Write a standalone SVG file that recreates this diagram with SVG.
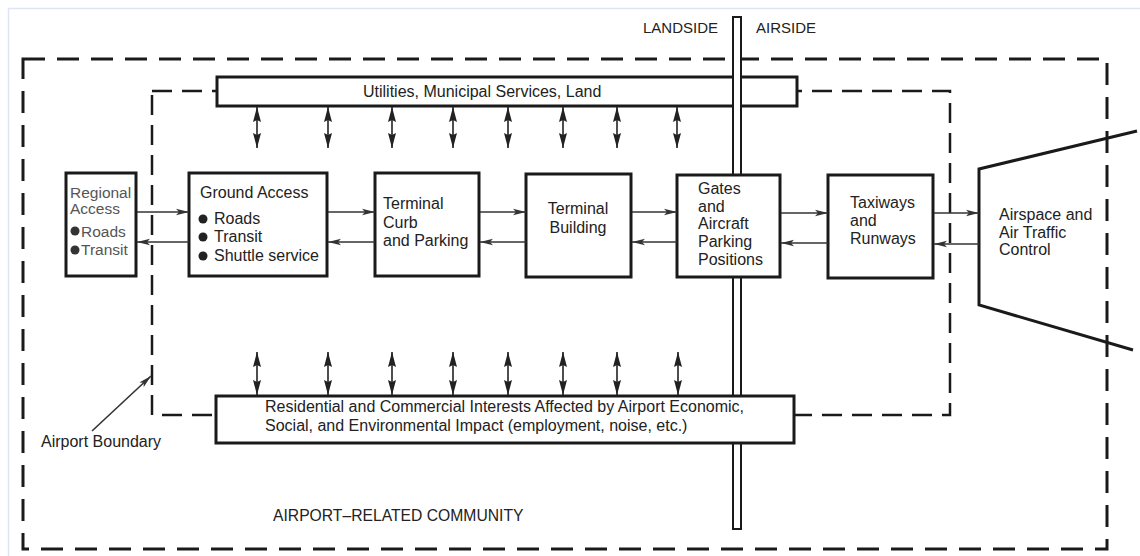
<svg xmlns="http://www.w3.org/2000/svg" width="1140" height="556" viewBox="0 0 1140 556">
<style>
text{font-family:"Liberation Sans",Arial,sans-serif;font-size:16px;fill:#222}
.gray{fill:#555;font-size:15.5px}
.side{font-size:15px}
.box{fill:#fff;stroke:#1a1a1a;stroke-width:3}
.dash{fill:none;stroke:#1a1a1a;stroke-width:3;stroke-dasharray:22 12}
.dash2{fill:none;stroke:#1a1a1a;stroke-width:2.5;stroke-dasharray:20 10}
.flow{stroke:#333;stroke-width:1.6;fill:none;marker-end:url(#ah)}
.dbl{stroke:#222;stroke-width:1.6;fill:none;marker-start:url(#vh);marker-end:url(#vh)}
</style>
<defs>
<marker id="ah" markerUnits="userSpaceOnUse" markerWidth="14" markerHeight="8" refX="13" refY="4" orient="auto">
<path d="M0,0.8 L13,4 L0,7.2 L3,4 Z" fill="#333"/>
</marker>
<marker id="vh" markerUnits="userSpaceOnUse" markerWidth="16" markerHeight="9" refX="15" refY="4.5" orient="auto-start-reverse">
<path d="M0,0.5 L15,4.5 L0,8.5 L2,4.5 Z" fill="#222"/>
</marker>
</defs>
<rect x="8.5" y="8.5" width="1150" height="570" fill="none" stroke="#dde5f5" stroke-width="1.5"/>
<g id="community-boundary">
<rect class="dash" x="23" y="59" width="1084" height="490"/>
<rect class="dash2" x="152" y="91" width="798" height="324"/>
</g>
<g id="utilities">
<rect class="box" x="217" y="77" width="580" height="29"/>
<text x="363" y="97">Utilities, Municipal Services, Land</text>
</g>
<g id="divider">
<rect x="733" y="17" width="8" height="512" fill="#fff" stroke="#1a1a1a" stroke-width="2"/>
<text class="side" x="643" y="33">LANDSIDE</text>
<text class="side" x="756" y="33">AIRSIDE</text>
</g>
<g id="regional-access">
<rect class="box" x="66" y="173" width="70" height="103"/>
<text class="gray" x="70" y="198">Regional</text>
<text class="gray" x="70" y="214">Access</text>
<circle cx="75" cy="231" r="4.5" fill="#333"/>
<text class="gray" x="81" y="237">Roads</text>
<circle cx="75" cy="250" r="4.5" fill="#333"/>
<text class="gray" x="81" y="255">Transit</text>
</g>
<g id="ground-access">
<rect class="box" x="189" y="173" width="138" height="103"/>
<text x="200" y="198">Ground Access</text>
<circle cx="203" cy="219" r="4.5" fill="#222"/>
<text x="214" y="224">Roads</text>
<circle cx="203" cy="237" r="4.5" fill="#222"/>
<text x="214" y="242">Transit</text>
<circle cx="203" cy="256" r="4.5" fill="#222"/>
<text x="214" y="261">Shuttle service</text>
</g>
<g id="terminal-curb">
<rect class="box" x="375" y="173" width="104" height="103"/>
<text x="383" y="209">Terminal</text>
<text x="383" y="228">Curb</text>
<text x="383" y="246">and Parking</text>
</g>
<g id="terminal-building">
<rect class="box" x="526" y="174" width="105" height="103"/>
<text x="578" y="214" text-anchor="middle">Terminal</text>
<text x="578" y="233" text-anchor="middle">Building</text>
</g>
<g id="gates">
<rect class="box" x="677" y="175" width="103" height="102"/>
<text x="698" y="194">Gates</text>
<text x="698" y="212">and</text>
<text x="698" y="229">Aircraft</text>
<text x="698" y="247">Parking</text>
<text x="698" y="265">Positions</text>
</g>
<g id="taxiways">
<rect class="box" x="828" y="175" width="105" height="103"/>
<text x="850" y="208">Taxiways</text>
<text x="850" y="226">and</text>
<text x="850" y="244">Runways</text>
</g>
<g id="airspace">
<polyline points="1137,131 979,169 979,305 1133,350" fill="none" stroke="#1a1a1a" stroke-width="3"/>
<text x="999" y="220">Airspace and</text>
<text x="999" y="238">Air Traffic</text>
<text x="999" y="255">Control</text>
</g>
<g id="residential">
<rect class="box" x="216" y="396" width="578" height="47"/>
<text x="265" y="412">Residential and Commercial Interests Affected by Airport Economic,</text>
<text x="265" y="431">Social, and Environmental Impact (employment, noise, etc.)</text>
</g>
<g id="labels">
<text x="41" y="447">Airport Boundary</text>
<text x="273" y="521" style="font-size:15.7px">AIRPORT–RELATED COMMUNITY</text>
</g>
<g id="connectors">
<line class="flow" x1="137" y1="212" x2="189" y2="212"/>
<line class="flow" x1="189" y1="242" x2="137" y2="242"/>
<line class="flow" x1="328" y1="212" x2="375" y2="212"/>
<line class="flow" x1="375" y1="242" x2="328" y2="242"/>
<line class="flow" x1="480" y1="212" x2="526" y2="212"/>
<line class="flow" x1="526" y1="242" x2="480" y2="242"/>
<line class="flow" x1="632" y1="212" x2="677" y2="212"/>
<line class="flow" x1="677" y1="242" x2="632" y2="242"/>
<line class="flow" x1="781" y1="213" x2="828" y2="213"/>
<line class="flow" x1="828" y1="243" x2="781" y2="243"/>
<line class="flow" x1="934" y1="213" x2="979" y2="213"/>
<line class="flow" x1="979" y1="244" x2="934" y2="244"/>
<line class="dbl" x1="257" y1="107" x2="257" y2="148"/>
<line class="dbl" x1="328" y1="107" x2="328" y2="148"/>
<line class="dbl" x1="392" y1="107" x2="392" y2="148"/>
<line class="dbl" x1="453" y1="107" x2="453" y2="148"/>
<line class="dbl" x1="508" y1="107" x2="508" y2="148"/>
<line class="dbl" x1="563" y1="107" x2="563" y2="148"/>
<line class="dbl" x1="617" y1="107" x2="617" y2="148"/>
<line class="dbl" x1="677" y1="107" x2="677" y2="148"/>
<line class="dbl" x1="257" y1="352" x2="257" y2="395"/>
<line class="dbl" x1="328" y1="352" x2="328" y2="395"/>
<line class="dbl" x1="392" y1="352" x2="392" y2="395"/>
<line class="dbl" x1="453" y1="352" x2="453" y2="395"/>
<line class="dbl" x1="508" y1="352" x2="508" y2="395"/>
<line class="dbl" x1="563" y1="352" x2="563" y2="395"/>
<line class="dbl" x1="617" y1="352" x2="617" y2="395"/>
<line class="dbl" x1="678" y1="352" x2="678" y2="395"/>
<line class="flow" x1="92" y1="431" x2="151" y2="376"/>
</g>
</svg>
